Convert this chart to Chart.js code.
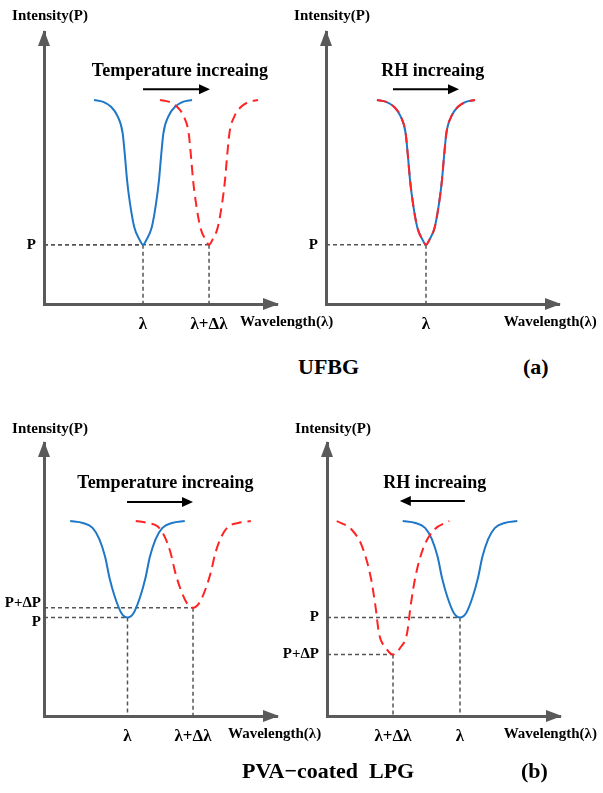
<!DOCTYPE html>
<html>
<head>
<meta charset="utf-8">
<script src="https://cdn.jsdelivr.net/npm/chart.js@4.4.1/dist/chart.umd.min.js"></script>
<style>
  body { margin: 0; background: #fff; }
  #page { position: relative; width: 603px; height: 793px; overflow: hidden; background: #fff; }
  canvas { position: absolute; }
  .cap { position: absolute; font: bold 22px 'Liberation Serif', 'Times New Roman', serif; line-height: 26px; white-space: pre; color: #000; }
</style>
</head>
<body>
<div id="page">
  <canvas id="fbgTemp" width="345" height="340" style="left:0;top:0"></canvas>
  <canvas id="fbgRh" width="321" height="340" style="left:282px;top:0"></canvas>
  <canvas id="lpgTemp" width="345" height="360" style="left:0;top:400px"></canvas>
  <canvas id="lpgRh" width="320" height="360" style="left:283px;top:400px"></canvas>
  <div class="cap" style="left:298px;top:354px">UFBG</div>
  <div class="cap" style="left:523px;top:354px">(a)</div>
  <div class="cap" style="left:242px;top:758px">PVA−coated  LPG</div>
  <div class="cap" style="left:521px;top:758px">(b)</div>
</div>
<script>
Chart.defaults.font.family = "'Liberation Serif', 'Times New Roman', serif"
Chart.defaults.font.weight = 'bold'
Chart.defaults.color = '#000'

const BLUE = '#1f77c8'
const RED = '#ff2323'
const AXIS = '#5a5a5a'
const GUIDE = '#555555'

// (a) UFBG, temperature: the dip moves to longer wavelength, depth stays
const fbgTempBlueX = [5.15, 6.1, 6.9, 7.6, 8.1, 8.35, 8.55, 8.85, 9.3, 9.85, 10.2, 10.55, 11.1, 11.55, 11.85, 12.05, 12.3, 12.8, 13.5, 14.3, 15.25]
const fbgTempBlueY = [21.0, 20.8, 20.3, 19.3, 17.6, 15.1, 12.8, 10.4, 7.9, 6.6, 6.1, 6.6, 7.9, 10.4, 12.8, 15.1, 17.6, 19.3, 20.3, 20.8, 21.0]
const fbgTempRedX = [11.95, 12.9, 13.7, 14.4, 14.9, 15.15, 15.35, 15.65, 16.1, 16.65, 17.0, 17.35, 17.9, 18.35, 18.65, 18.85, 19.1, 19.6, 20.3, 21.1, 22.05]
const fbgTempRedY = [21.0, 20.8, 20.3, 19.3, 17.6, 15.1, 12.8, 10.4, 7.9, 6.6, 6.1, 6.6, 7.9, 10.4, 12.8, 15.1, 17.6, 19.3, 20.3, 20.8, 21.0]
const fbgTempDipLam = [10.2, 17.0]
const fbgTempDipP = [6.1, 6.1]
const fbgTempXTicks = [10.2, 17.0]
const fbgTempXLabels = ['λ', 'λ+Δλ']
const fbgTempYTicks = [6.1]
const fbgTempYLabels = ['P']

// (a) UFBG, humidity: spectrum does not move
const fbgRhX = [5.25, 6.2, 7.0, 7.7, 8.2, 8.45, 8.65, 8.95, 9.4, 9.95, 10.3, 10.65, 11.2, 11.65, 11.95, 12.15, 12.4, 12.9, 13.6, 14.4, 15.35]
const fbgRhY = [21.0, 20.8, 20.3, 19.3, 17.6, 15.1, 12.8, 10.4, 7.9, 6.6, 6.1, 6.6, 7.9, 10.4, 12.8, 15.1, 17.6, 19.3, 20.3, 20.8, 21.0]
const fbgRhDipLam = [10.3]
const fbgRhDipP = [6.1]
const fbgRhXTicks = [10.3]
const fbgRhXLabels = ['λ']
const fbgRhYTicks = [6.1]
const fbgRhYLabels = ['P']

// (b) PVA-coated LPG, temperature: red shift, dip gets shallower
const lpgTempBlueX = [2.7, 4.0, 5.0, 5.7, 6.3, 6.75, 7.3, 7.95, 8.6, 9.25, 9.9, 10.45, 10.9, 11.5, 12.2, 13.2, 14.5]
const lpgTempBlueY = [20.0, 19.8, 19.3, 18.15, 16.3, 14.15, 12.2, 10.6, 10.1, 10.6, 12.2, 14.15, 16.3, 18.15, 19.3, 19.8, 20.0]
const lpgTempRedX = [9.45, 10.7, 11.75, 12.45, 13.05, 13.5, 14.05, 14.7, 15.35, 16.0, 16.65, 17.2, 17.65, 18.25, 18.95, 20.0, 21.3]
const lpgTempRedY = [20.0, 19.8, 19.4, 18.35, 16.7, 14.8, 13.05, 11.6, 11.1, 11.6, 13.05, 14.8, 16.7, 18.35, 19.4, 19.8, 20.0]
const lpgTempDipLam = [8.6, 15.35]
const lpgTempDipP = [10.1, 11.1]
const lpgTempXTicks = [8.6, 15.35]
const lpgTempXLabels = ['λ', 'λ+Δλ']
const lpgTempYTicks = [10.1, 11.1]
const lpgTempYLabels = ['P', 'P+ΔP']

// (b) PVA-coated LPG, humidity: blue shift, dip gets deeper
const lpgRhBlueX = [7.8, 9.1, 10.1, 10.8, 11.4, 11.85, 12.4, 13.05, 13.7, 14.35, 15.0, 15.55, 16.0, 16.6, 17.3, 18.3, 19.6]
const lpgRhBlueY = [20.0, 19.8, 19.3, 18.15, 16.3, 14.15, 12.2, 10.6, 10.1, 10.6, 12.2, 14.15, 16.3, 18.15, 19.3, 19.8, 20.0]
const lpgRhRedX = [1.0, 2.55, 3.65, 4.5, 5.0, 5.35, 6.05, 6.8, 7.55, 8.25, 8.6, 9.1, 9.95, 11.05, 12.6]
const lpgRhRedY = [20.0, 19.1, 17.3, 14.25, 11.2, 8.5, 7.0, 6.3, 7.0, 8.5, 11.2, 14.25, 17.3, 19.1, 20.0]
const lpgRhDipLam = [13.7, 6.8]
const lpgRhDipP = [10.1, 6.3]
const lpgRhXTicks = [6.8, 13.7]
const lpgRhXLabels = ['λ+Δλ', 'λ']
const lpgRhYTicks = [6.3, 10.1]
const lpgRhYLabels = ['P+ΔP', 'P']


function points(xs, ys) {
    return xs.map((x, i) => ({ x, y: ys[i] }))
}

function spectrum(xs, ys, color, dashed) {
    return {
        data: points(xs, ys),
        borderColor: color,
        borderWidth: 2,
        borderDash: dashed ? [10, 6] : [],
        cubicInterpolationMode: 'monotone',
        pointRadius: 0
    }
}

// dashed drop lines from each dip to both axes
function guides(lams, ps) {
    const sets = []
    lams.forEach((lam, i) => {
        sets.push({ data: [{ x: 0, y: ps[i] }, { x: lam, y: ps[i] }] })
        sets.push({ data: [{ x: lam, y: ps[i] }, { x: lam, y: 0 }] })
    })
    return sets.map(s => ({ ...s, borderColor: GUIDE, borderWidth: 1.5, borderDash: [4, 3], pointRadius: 0 }))
}

function sketchPlugin(p) {
    return {
        id: 'sketch',
        afterDraw(chart) {
            const { ctx, chartArea: a, scales: { x, y } } = chart
            ctx.save()

            // axis arrow heads
            ctx.fillStyle = AXIS
            ctx.beginPath()
            ctx.moveTo(a.left, a.top - 2)
            ctx.lineTo(a.left - 6, a.top + 14)
            ctx.lineTo(a.left + 6, a.top + 14)
            ctx.fill()
            ctx.beginPath()
            ctx.moveTo(a.right + 2, a.bottom)
            ctx.lineTo(a.right - 14, a.bottom - 6)
            ctx.lineTo(a.right - 14, a.bottom + 6)
            ctx.fill()

            // shift direction arrow
            const ay = y.getPixelForValue(p.arrowY)
            const x0 = x.getPixelForValue(p.arrow[0])
            const x1 = x.getPixelForValue(p.arrow[1])
            const dir = Math.sign(x1 - x0)
            ctx.strokeStyle = '#000'
            ctx.fillStyle = '#000'
            ctx.lineWidth = 2
            ctx.beginPath()
            ctx.moveTo(x0, ay)
            ctx.lineTo(x1 - dir * 8, ay)
            ctx.stroke()
            ctx.beginPath()
            ctx.moveTo(x1, ay)
            ctx.lineTo(x1 - dir * 11, ay - 5)
            ctx.lineTo(x1 - dir * 11, ay + 5)
            ctx.fill()

            ctx.textAlign = 'center'
            ctx.textBaseline = 'middle'
            ctx.font = "bold 18px 'Liberation Serif'"
            ctx.fillText(p.note, x.getPixelForValue(p.noteAt[0]), y.getPixelForValue(p.noteAt[1]))

            ctx.font = "bold 15px 'Liberation Serif'"
            ctx.fillText('Intensity(P)', a.left + 6, a.top - p.titleGap)
            ctx.textAlign = 'left'
            ctx.textBaseline = 'top'
            ctx.fillText('Wavelength(λ)', x.getPixelForValue(p.xTitleAt), a.bottom + 11)

            ctx.restore()
        }
    }
}

function printPanel(p) {
    // two close levels: push the lower label down and the upper one up
    const nudge = p.yNudge || []
    const yLabel = (v, i) => nudge[i] > 0 ? ['', p.yLabels[i]] : nudge[i] < 0 ? [p.yLabels[i], ''] : p.yLabels[i]

    new Chart(p.id, {
        type: 'line',
        data: { datasets: [...p.curves, ...guides(p.dipLam, p.dipP)] },
        options: {
            responsive: false,
            animation: false,
            devicePixelRatio: 1,
            layout: { padding: p.padding },
            plugins: { legend: { display: false }, tooltip: { enabled: false } },
            scales: {
                x: {
                    type: 'linear', min: 0, max: 24,
                    grid: { display: false, drawTicks: false },
                    border: { color: AXIS, width: 3 },
                    afterBuildTicks: s => { s.ticks = p.xTicks.map(v => ({ value: v })) },
                    afterFit: s => { s.height = 30 },
                    ticks: { font: { size: 17, weight: 'bold' }, padding: 10, autoSkip: false, maxRotation: 0, callback: (v, i) => p.xLabels[i] }
                },
                y: {
                    type: 'linear', min: 0, max: 28,
                    grid: { display: false, drawTicks: false },
                    border: { color: AXIS, width: 3 },
                    afterBuildTicks: s => { s.ticks = p.yTicks.map(v => ({ value: v })) },
                    afterFit: s => { s.width = 44 },
                    ticks: { font: { size: 15, weight: 'bold', lineHeight: 0.6 }, padding: p.yPad, autoSkip: false, callback: yLabel }
                }
            }
        },
        plugins: [sketchPlugin(p)]
    })
}


printPanel({
    id: 'fbgTemp',
    padding: { top: 32, right: 68, bottom: 6, left: 0 },
    curves: [spectrum(fbgTempRedX, fbgTempRedY, RED, true), spectrum(fbgTempBlueX, fbgTempBlueY, BLUE, false)],
    dipLam: fbgTempDipLam, dipP: fbgTempDipP,
    xTicks: fbgTempXTicks, xLabels: fbgTempXLabels,
    yTicks: fbgTempYTicks, yLabels: fbgTempYLabels, yPad: 8,
    note: 'Temperature increaing', noteAt: [14.0, 23.9],
    arrow: [10.2, 17.1], arrowY: 22.1,
    xTitleAt: 20.2, titleGap: 16
})

printPanel({
    id: 'fbgRh',
    padding: { top: 32, right: 44, bottom: 6, left: 0 },
    curves: [spectrum(fbgRhX, fbgRhY, RED, true), spectrum(fbgRhX, fbgRhY, BLUE, false)],
    dipLam: fbgRhDipLam, dipP: fbgRhDipP,
    xTicks: fbgRhXTicks, xLabels: fbgRhXLabels,
    yTicks: fbgRhYTicks, yLabels: fbgRhYLabels, yPad: 8,
    note: 'RH increaing', noteAt: [11.0, 23.9],
    arrow: [6.9, 13.7], arrowY: 22.1,
    xTitleAt: 18.3, titleGap: 16
})

printPanel({
    id: 'lpgTemp',
    padding: { top: 43, right: 68, bottom: 14, left: 0 },
    curves: [spectrum(lpgTempRedX, lpgTempRedY, RED, true), spectrum(lpgTempBlueX, lpgTempBlueY, BLUE, false)],
    dipLam: lpgTempDipLam, dipP: lpgTempDipP,
    xTicks: lpgTempXTicks, xLabels: lpgTempXLabels,
    yTicks: lpgTempYTicks, yLabels: lpgTempYLabels, yPad: 3, yNudge: [1, -1],
    note: 'Temperature increaing', noteAt: [12.5, 23.9],
    arrow: [8.55, 15.35], arrowY: 21.95,
    xTitleAt: 18.95, titleGap: 14
})

printPanel({
    id: 'lpgRh',
    padding: { top: 43, right: 43, bottom: 14, left: 0 },
    curves: [spectrum(lpgRhRedX, lpgRhRedY, RED, true), spectrum(lpgRhBlueX, lpgRhBlueY, BLUE, false)],
    dipLam: lpgRhDipLam, dipP: lpgRhDipP,
    xTicks: lpgRhXTicks, xLabels: lpgRhXLabels,
    yTicks: lpgRhYTicks, yLabels: lpgRhYLabels, yPad: 8,
    note: 'RH increaing', noteAt: [11.1, 23.9],
    arrow: [14.2, 7.5], arrowY: 22.05,
    xTitleAt: 18.2, titleGap: 14
})
</script>
</body>
</html>
